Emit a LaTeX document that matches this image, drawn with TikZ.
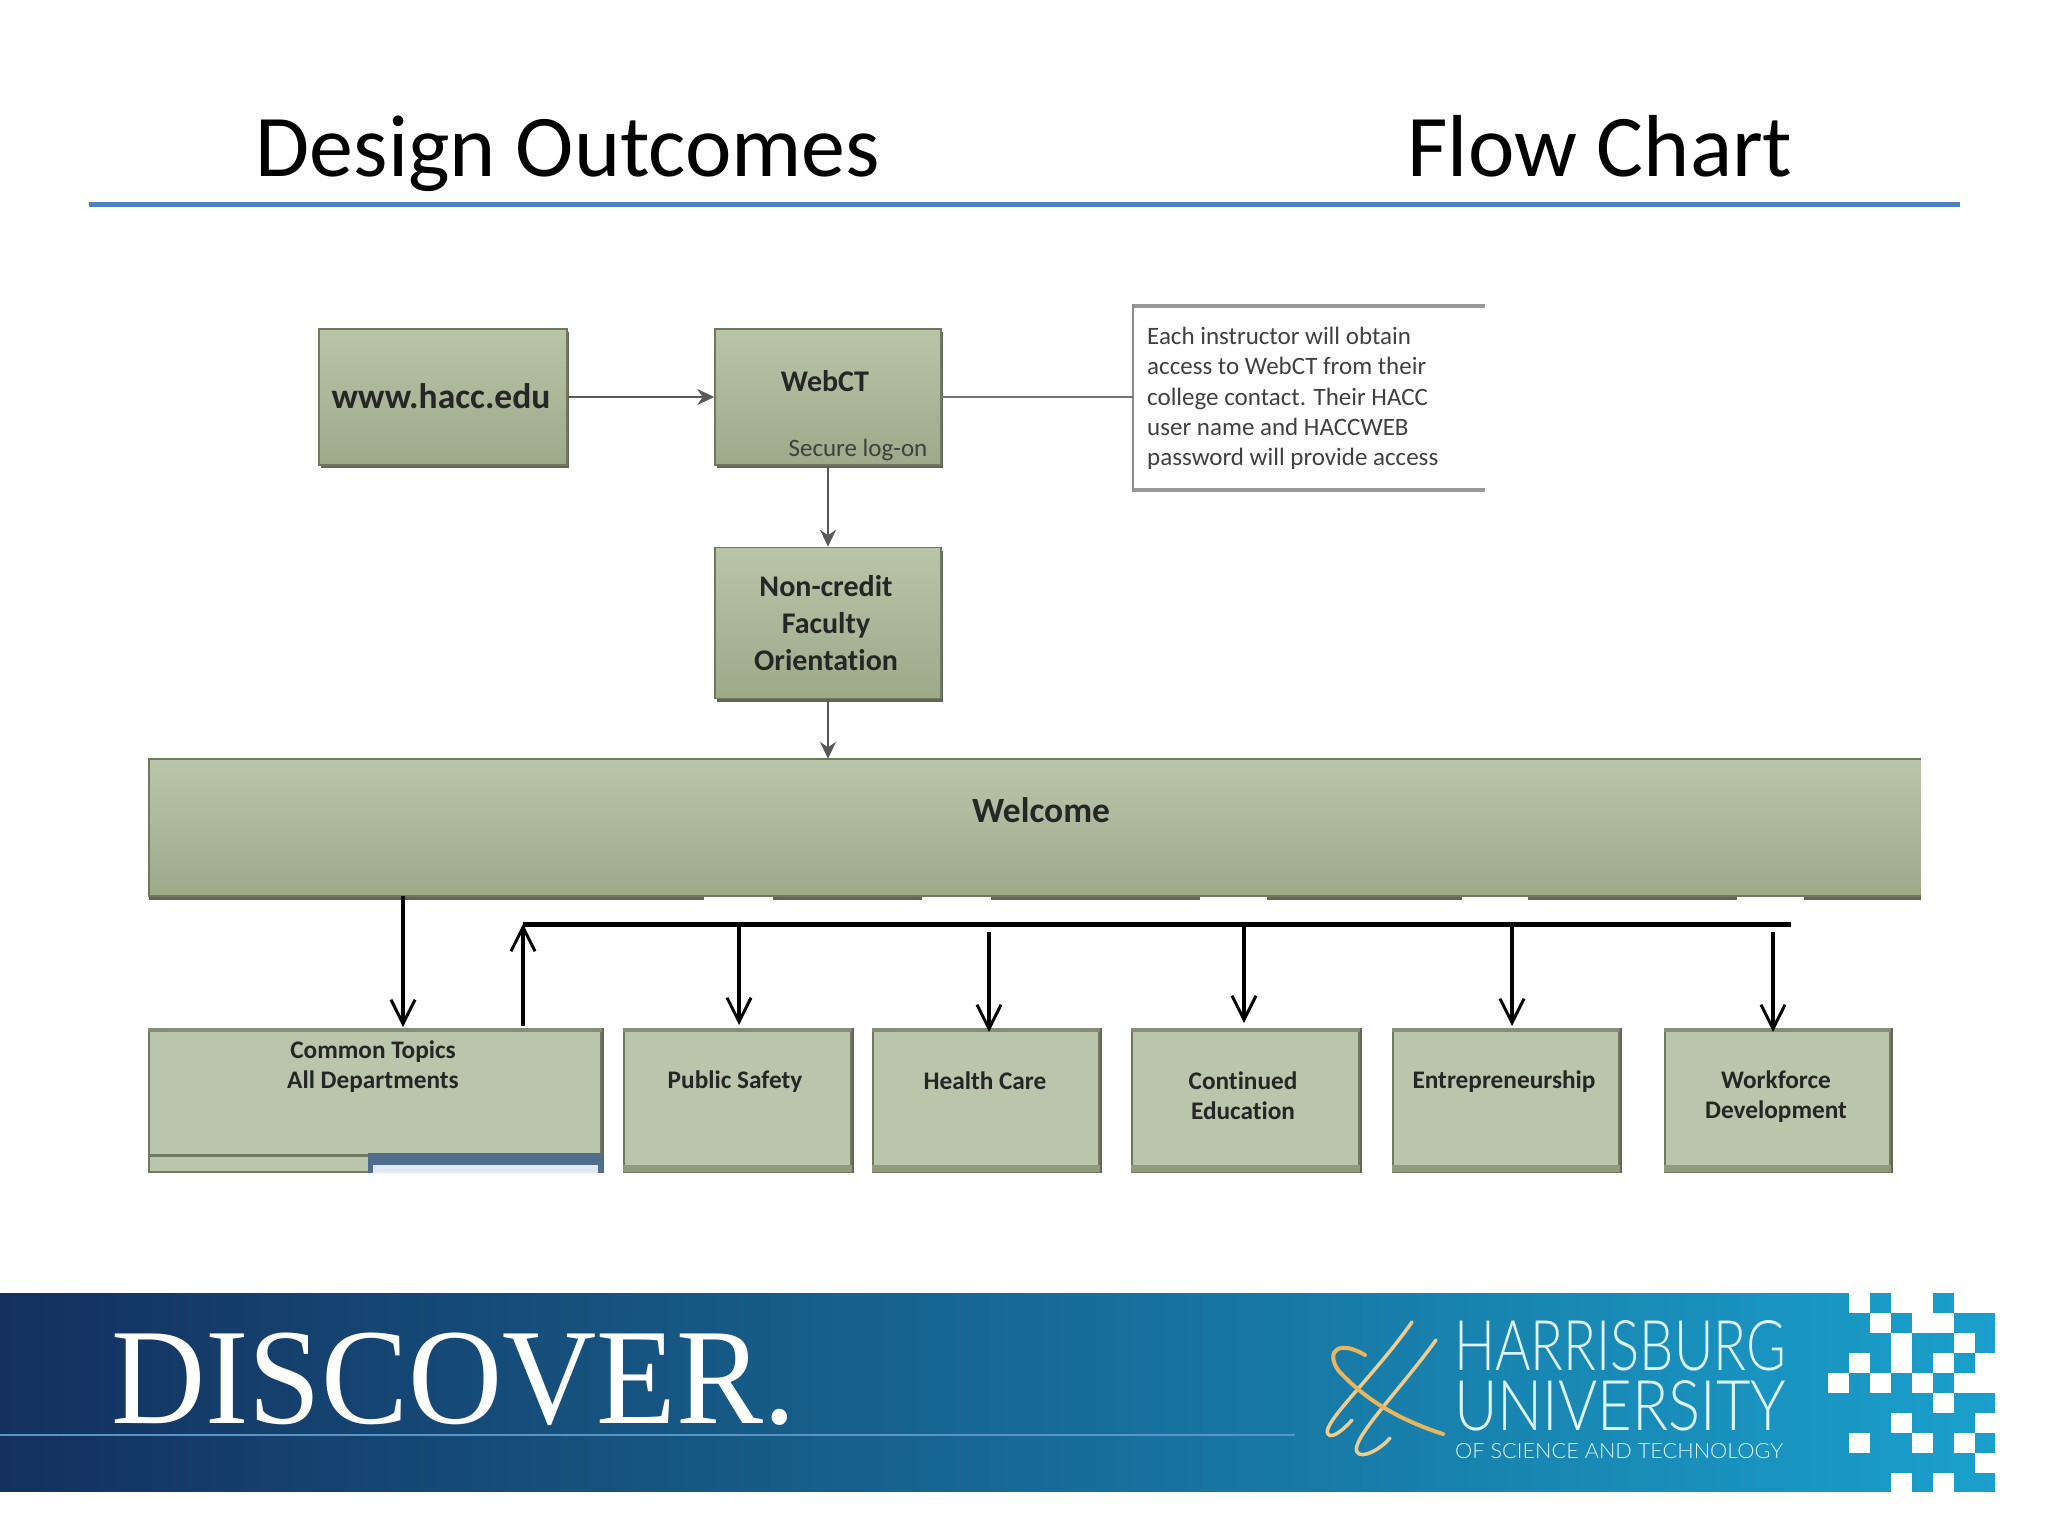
\documentclass[tikz,border=0pt]{standalone}
\usepackage{fontspec}
\setmainfont[Ligatures=NoCommon]{Carlito}
\newfontfamily\serifdisc{Liberation Serif}
\newfontfamily\lightsans{Lato Light}
\usetikzlibrary{arrows.meta,shadows,calc}
\definecolor{boxtop}{RGB}{186,197,168}
\definecolor{boxbot}{RGB}{158,169,138}
\definecolor{boxflat}{RGB}{187,197,171}
\definecolor{edgec}{RGB}{112,120,96}
\definecolor{shadc}{RGB}{98,104,84}
\definecolor{ruleblue}{RGB}{79,129,189}
\definecolor{bandL}{RGB}{20,48,94}
\definecolor{bandM}{RGB}{16,100,150}
\definecolor{bandR}{RGB}{26,160,204}
\definecolor{logow}{RGB}{222,246,252}
\definecolor{gold}{RGB}{232,182,92}
\definecolor{bandline}{RGB}{90,150,195}
\definecolor{blueedge}{RGB}{80,110,140}
\definecolor{bluein}{RGB}{225,232,245}
\newcommand{\fsz}[2]{\fontsize{#1}{#2}\selectfont}
\tikzset{
  gbox/.style={rectangle,inner sep=0pt,draw=edgec,line width=1.5pt,top color=boxtop,bottom color=boxbot,
    general shadow={shadow xshift=2pt,shadow yshift=-3pt,fill=shadc}},
  flatbox/.style={rectangle,inner sep=0pt,draw=edgec,line width=1.5pt,fill=boxflat,minimum height=143pt},
  band/.style={line width=4pt,draw=edgec!85!white},
  lab/.style={inner sep=0pt,text=black!85,font=\bfseries\fsz{30}{37},align=center},
  sublab/.style={inner sep=0pt,text=black!85,font=\bfseries\fsz{25.3}{30},align=center},
  thin arrow/.style={line width=2pt,draw=black!65,-{Stealth[length=17pt,width=16pt]}},
  barb arrow/.style={line width=3.5pt,draw=black,-{Straight Barb[length=24pt,width=24pt,line width=3pt]}},
  title/.style={inner sep=0pt,anchor=base,text=black,font=\fsz{88}{96}},
}
\begin{document}
\begin{tikzpicture}[x=1pt,y=-1pt]
\useasboundingbox (0,0) rectangle (2048,1536);
\fill[white] (0,0) rectangle (2048,1536);
% title
\node[title] (t1) at (568,176) {Design Outcomes};
\node[title] (t2) at (1600,176) {Flow Chart};
\fill[ruleblue] (89,201.5) rectangle (1960,206.5);
% upper boxes
\node[gbox,minimum width=248pt,minimum height=136pt] (www) at (443,397) {};
\node[gbox,minimum width=226pt,minimum height=136pt] (web) at (828,397) {};
\node[gbox,minimum width=226pt,minimum height=151pt] (non) at (828,623) {};
\node[lab,font=\bfseries\fsz{35.5}{37}] (wwwt) at (441,396) {www.hacc.edu};
\node[lab] (webt) at (825,381) {WebCT};
\node[inner sep=0pt,text=black!75,font=\fsz{25}{28}] (sec) at (858,450) {Secure log-on};
\node[lab] (nont) at (826,623) {Non-credit\\Faculty\\Orientation};
% note
\node[rectangle,inner sep=0pt,fill=white,minimum width=352pt,minimum height=183pt] (note) at (1309,398) {};
\node[inner sep=0pt,anchor=west,align=left,text=black!75,font=\fsz{25}{30.4}] (notet) at (1147,398.5)
  {Each instructor will obtain\\access to WebCT from their\\college contact. Their HACC\\user name and HACCWEB\\password will provide access};
\draw[line width=4pt,black!40] (note.north east) -- (note.north west);
\draw[line width=4pt,black!40] (note.south east) -- (note.south west);
\draw[line width=2.5pt,black!45] ([yshift=2pt]note.north west) -- ([yshift=-2pt]note.south west);
% welcome
\node[rectangle,inner sep=0pt,top color=boxflat,bottom color=boxbot,minimum width=1772pt,minimum height=137pt,
  general shadow={shadow xshift=0pt,shadow yshift=-4pt,fill=shadc}] (wel) at (1035,827.5) {};
\draw[line width=1.5pt,edgec] (wel.north east) -- (wel.north west) -- (wel.south west) -- (wel.south east);
\node[lab,font=\bfseries\fsz{35.5}{37}] (welt) at (1041,810) {Welcome};
\foreach \a/\b in {704/773,922/991,1200/1267,1462/1528,1737/1804}
  \fill[white] (\a,896.5) rectangle (\b,903);
\fill[white] (1921,755) rectangle (1935,905);
% lower boxes
\node[flatbox,minimum width=452pt] (com) at (375,1100.5) {};
\node[flatbox,minimum width=227pt] (pub) at (737.5,1100.5) {};
\node[flatbox,minimum width=226pt] (hlt) at (986,1100.5) {};
\node[flatbox,minimum width=227pt] (con) at (1245.5,1100.5) {};
\node[flatbox,minimum width=226pt] (ent) at (1506,1100.5) {};
\node[flatbox,minimum width=225pt] (wrk) at (1777.5,1100.5) {};
\foreach \n in {com,pub,hlt,con,ent,wrk}{
  \draw[band] ([yshift=-2pt]\n.north west) -- ([yshift=-2pt]\n.north east);
  \draw[line width=2.5pt,shadc] ([xshift=1pt]\n.north east) -- ([xshift=1pt]\n.south east);
}
\foreach \n in {pub,hlt,con,ent,wrk}
  \draw[line width=7pt,boxbot!70!edgec] ([yshift=4pt]\n.south west) -- ([yshift=4pt]\n.south east);
\fill[white] (140,1172.5) rectangle (1925,1182);
\draw[line width=3pt,edgec] (150,1155) -- (368,1155);
\fill[blueedge] (368,1153) rectangle (603,1172.5);
\fill[bluein] (373,1165) rectangle (598,1172.5);
\node[sublab] (comt) at (373,1067) {Common Topics\\All Departments};
\node[sublab] (pubt) at (735,1082) {Public Safety};
\node[sublab] (hltt) at (985,1081) {Health Care};
\node[sublab] (cont) at (1243,1096) {Continued\\Education};
\node[sublab] (entt) at (1504,1082) {Entrepreneurship};
\node[sublab] (wrkt) at (1776,1097) {Workforce\\Development};
% connectors
\draw[thin arrow] (www.east) -- (www.east -| web.west);
\draw[line width=2pt,black!55] (web.east) -- (web.east -| note.west);
\draw[thin arrow] (web.south) -- (non.north);
\draw[thin arrow] (non.south) -- (non.south |- wel.north);
\coordinate (barL) at (523,924);
\coordinate (barR) at (1791,924);
\coordinate (upS) at (523,1026);
\coordinate (hS) at (989,932);
\coordinate (wS) at (1773,932);
\coordinate (cE) at (403,1027);
\coordinate (pE) at (739,1025);
\coordinate (hE) at (989,1032);
\coordinate (nE) at (1244,1023);
\coordinate (eE) at (1512,1026);
\coordinate (wE) at (1773,1032);
\draw[line width=5pt,black] (barL) -- (barR);
\draw[barb arrow] (wel.south -| cE) -- (cE);
\draw[barb arrow] (upS) -- (barL);
\draw[barb arrow] (barL -| pE) -- (pE);
\draw[barb arrow] (hS) -- (hE);
\draw[barb arrow] (barL -| nE) -- (nE);
\draw[barb arrow] (barL -| eE) -- (eE);
\draw[barb arrow] (wS) -- (wE);
% banner
\shade[left color=bandL,middle color=bandM,right color=bandR] (0,1293) rectangle (1995,1492);
\foreach \c/\r in {1/0,3/0,4/0,6/0,7/0,2/1,4/1,5/1,3/2,6/2,1/3,3/3,5/3,7/3,0/4,2/4,4/4,6/4,7/4,5/5,3/6,7/6,1/7,4/7,6/7,7/8,3/9,5/9}
  \fill[white] ({1828+21*\c},{1293+20*\r}) rectangle ({1828+21*\c+21},{1293+20*\r+20});
\fill[white] (1995,1285) rectangle (2010,1500);
\fill[white] (0,1492) rectangle (2048,1500);
\draw[line width=1.5pt,bandline] (0,1435) -- (1295,1435);
\node[inner sep=0pt,anchor=base west,text=white,font=\serifdisc\fsz{141}{150}] (disc) at (111,1423) {\scalebox{.925}[.97]{DISCOVER.}};
\node[inner sep=0pt,anchor=base west,text=logow,font=\lightsans\fsz{70}{80}] (hu1) at (1454,1370) {\resizebox{332pt}{50pt}{HARRISBURG}};
\node[inner sep=0pt,anchor=base west,text=logow,font=\lightsans\fsz{70}{80}] (hu2) at (1454,1430) {\resizebox{332pt}{50pt}{UNIVERSITY}};
\node[inner sep=0pt,anchor=base west,text=logow,font=\lightsans\fsz{20}{24}] (hu3) at (1455,1458) {\resizebox{328pt}{15pt}{OF SCIENCE AND TECHNOLOGY}};
% logo swoosh
\draw[gold!70!white,line width=3.5pt,line cap=round] (1412,1322) .. controls (1375,1375) and (1320,1425) .. (1328,1434) .. controls (1332,1440) and (1345,1428) .. (1352,1420);
\draw[gold!70!white,line width=3.5pt,line cap=round] (1436,1340) .. controls (1400,1390) and (1350,1440) .. (1357,1452) .. controls (1362,1460) and (1382,1448) .. (1390,1438);
\draw[gold,line width=4pt,line cap=round] (1365,1355) .. controls (1340,1340) and (1325,1350) .. (1338,1370) .. controls (1365,1400) and (1400,1420) .. (1443,1434);
\end{tikzpicture}
\end{document}
